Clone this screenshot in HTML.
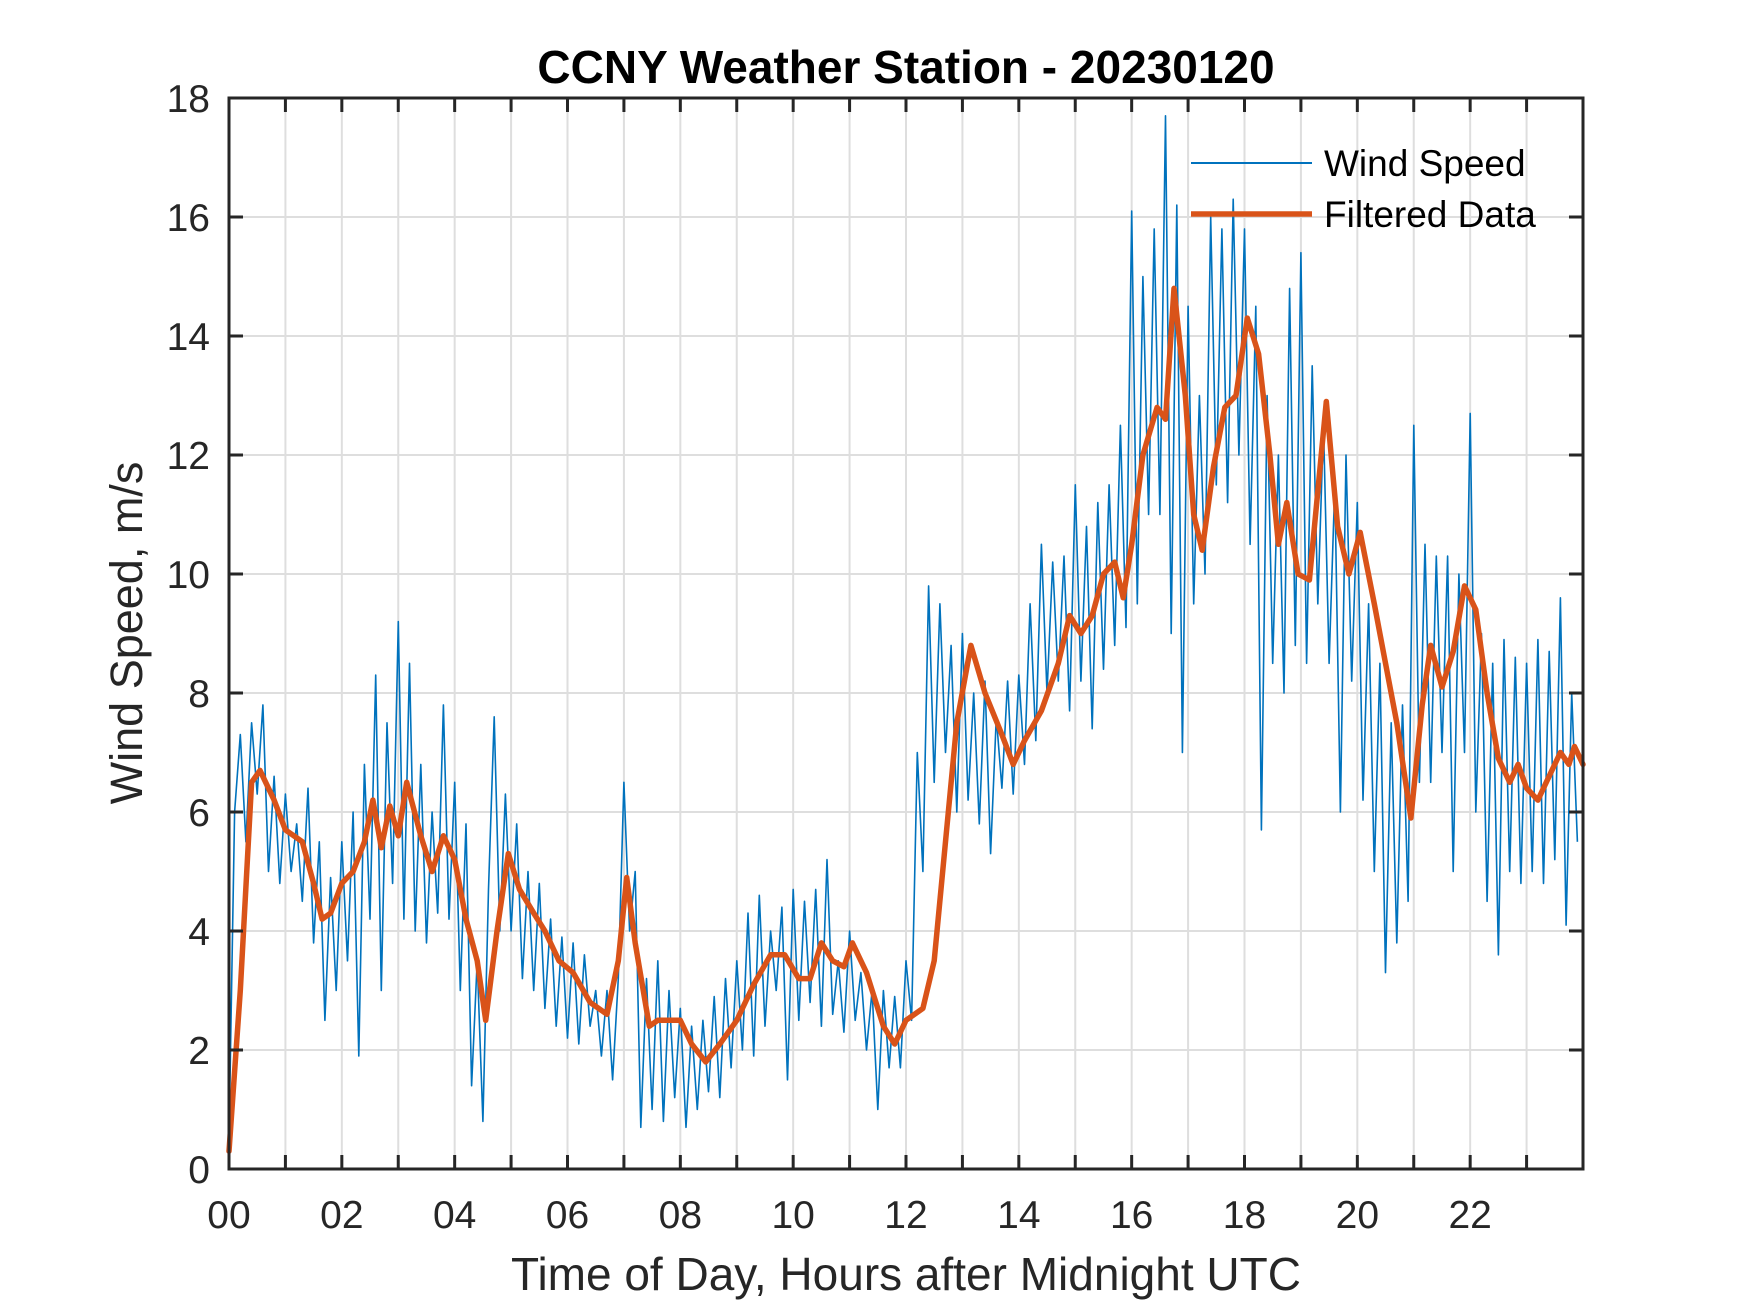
<!DOCTYPE html>
<html><head><meta charset="utf-8"><style>
html,body{margin:0;padding:0;background:#fff;}
svg{display:block;font-family:"Liberation Sans",Arial,sans-serif;}
</style></head><body>
<svg id="chart" width="1750" height="1313" viewBox="0 0 1750 1313" xmlns="http://www.w3.org/2000/svg">
<rect width="1750" height="1313" fill="#fff"/>
<g id="grid"></g>
<g id="series"></g>
<g id="axes"></g>
<text x="906" y="83" text-anchor="middle" font-size="46" font-weight="bold" fill="#000">CCNY Weather Station - 20230120</text>
<text x="906" y="1290" text-anchor="middle" font-size="46" fill="#262626">Time of Day, Hours after Midnight UTC</text>
<text x="0" y="0" transform="translate(142,633) rotate(-90)" text-anchor="middle" font-size="45" fill="#262626">Wind Speed, m/s</text>
<g>
<line x1="1191" y1="163" x2="1312" y2="163" stroke="#0072BD" stroke-width="2"/>
<text x="1324" y="176" font-size="37" fill="#000">Wind Speed</text>
<line x1="1191" y1="214" x2="1312" y2="214" stroke="#D95319" stroke-width="5.5"/>
<text x="1324" y="227" font-size="37" fill="#000">Filtered Data</text>
</g>
</svg>
<script>
const rawValues = [
0.5,6.0,7.3,5.5,7.5,6.3,7.8,5.0,6.6,4.8,
6.3,5.0,5.8,4.5,6.4,3.8,5.5,2.5,4.9,3.0,
5.5,3.5,6.0,1.9,6.8,4.2,8.3,3.0,7.5,4.8,
9.2,4.2,8.5,4.0,6.8,3.8,6.0,4.3,7.8,4.2,
6.5,3.0,5.8,1.4,3.5,0.8,4.7,7.6,4.0,6.3,
4.0,5.8,3.2,5.0,3.0,4.8,2.7,4.2,2.4,3.9,
2.2,3.8,2.1,3.6,2.4,3.0,1.9,3.0,1.5,3.2,
6.5,4.0,5.0,0.7,3.2,1.0,3.5,0.8,3.0,1.2,
2.7,0.7,2.4,1.0,2.5,1.3,2.9,1.2,3.2,1.7,
3.5,2.0,4.3,1.9,4.6,2.4,4.0,3.0,4.4,1.5,
4.7,2.5,4.5,2.8,4.7,2.4,5.2,2.6,3.5,2.3,
4.0,2.5,3.3,2.0,3.0,1.0,3.0,1.7,2.9,1.7,
3.5,2.5,7.0,5.0,9.8,6.5,9.5,7.0,8.8,6.0,
9.0,6.2,8.0,5.8,8.2,5.3,7.6,6.4,8.2,6.3,
8.3,6.8,9.5,7.2,10.5,8.0,10.2,8.2,10.3,7.7,
11.5,8.2,10.8,7.4,11.2,8.4,11.5,8.8,12.5,9.1,
16.1,9.5,15.0,11.0,15.8,11.0,17.7,9.0,16.2,7.0,
14.5,9.5,13.0,10.0,16.0,11.5,15.8,11.2,16.3,12.0,
15.8,10.5,14.5,5.7,13.0,8.5,12.0,8.0,14.8,8.8,
15.4,8.5,13.5,9.5,12.5,8.5,11.5,6.0,12.0,8.2,
11.2,6.2,9.5,5.0,8.5,3.3,7.5,3.8,7.8,4.5,
12.5,6.5,10.5,6.5,10.3,7.0,10.3,5.0,10.0,7.0,
12.7,6.0,9.0,4.5,8.5,3.6,8.9,5.0,8.6,4.8,
8.5,5.0,8.9,4.8,8.7,5.2,9.6,4.1,8.0,5.5
];
const rawStepHours = 0.1;
const filtHours = [0,0.2,0.4,0.55,0.8,1,1.3,1.5,1.65,1.8,2,2.2,2.4,2.55,2.7,2.85,3.0,3.15,3.4,3.6,3.8,4.0,4.2,4.4,4.55,4.75,4.95,5.15,5.4,5.6,5.85,6.1,6.4,6.7,6.9,7.05,7.2,7.45,7.6,8.0,8.2,8.45,8.7,9.0,9.3,9.6,9.85,10.1,10.3,10.5,10.7,10.9,11.05,11.3,11.6,11.8,12.0,12.3,12.5,12.7,12.9,13.15,13.4,13.7,13.9,14.1,14.4,14.7,14.9,15.1,15.3,15.5,15.7,15.85,16.0,16.2,16.45,16.6,16.75,16.95,17.1,17.25,17.45,17.65,17.85,18.05,18.25,18.45,18.6,18.75,18.95,19.15,19.45,19.65,19.85,20.05,20.3,20.5,20.7,20.95,21.15,21.3,21.5,21.7,21.9,22.1,22.3,22.5,22.7,22.85,23.0,23.2,23.4,23.6,23.75,23.85,24];
const filtValues = [0.3,3,6.5,6.7,6.2,5.7,5.5,4.8,4.2,4.3,4.8,5.0,5.5,6.2,5.4,6.1,5.6,6.5,5.6,5.0,5.6,5.2,4.2,3.5,2.5,4.0,5.3,4.7,4.3,4.0,3.5,3.3,2.8,2.6,3.5,4.9,3.8,2.4,2.5,2.5,2.1,1.8,2.1,2.5,3.1,3.6,3.6,3.2,3.2,3.8,3.5,3.4,3.8,3.3,2.4,2.1,2.5,2.7,3.5,5.5,7.5,8.8,8.0,7.3,6.8,7.2,7.7,8.5,9.3,9.0,9.3,10.0,10.2,9.6,10.5,12.0,12.8,12.6,14.8,13.0,11.0,10.4,11.8,12.8,13.0,14.3,13.7,12.0,10.5,11.2,10.0,9.9,12.9,10.8,10.0,10.7,9.5,8.5,7.5,5.9,7.8,8.8,8.1,8.7,9.8,9.4,8.0,6.9,6.5,6.8,6.4,6.2,6.6,7.0,6.8,7.1,6.8];
const xTickLabels = ["00","02","04","06","08","10","12","14","16","18","20","22"];
const yTickLabels = ["0","2","4","6","8","10","12","14","16","18"];

const NS="http://www.w3.org/2000/svg";
const L=229,R=1583,T=98,B=1169;
const xS=h=>L+(R-L)*h/24;
const yS=v=>B-(B-T)*v/18;
function mk(tag,attrs,parent){const e=document.createElementNS(NS,tag);for(const k in attrs)e.setAttribute(k,attrs[k]);parent.appendChild(e);return e;}
const grid=document.getElementById('grid'),series=document.getElementById('series'),axes=document.getElementById('axes');
for(let h=1;h<24;h++){
  const g=mk('line',{x1:xS(h),x2:xS(h),y1:T,y2:B,stroke:'#dedede','stroke-width':2},grid);
  
  
}
for(let i=1;i<yTickLabels.length-1;i++){
  const v=+yTickLabels[i];
  const g=mk('line',{x1:L,x2:R,y1:yS(v),y2:yS(v),stroke:'#dedede','stroke-width':2},grid);
  
  
}
let d='';
rawValues.forEach((v,i)=>{d+=(i?'L':'M')+xS(i*rawStepHours).toFixed(1)+' '+yS(v).toFixed(1);});
const raw=mk('path',{d:d,fill:'none',stroke:'#0072BD','stroke-width':1.6,'stroke-linejoin':'round'},series);


let d2='';
filtValues.forEach((v,i)=>{d2+=(i?'L':'M')+xS(filtHours[i]).toFixed(1)+' '+yS(v).toFixed(1);});
const f=mk('path',{d:d2,fill:'none',stroke:'#D95319','stroke-width':5.5,'stroke-linejoin':'round','stroke-linecap':'round'},series);


const box=mk('rect',{x:L,y:T,width:R-L,height:B-T,fill:'none',stroke:'#262626','stroke-width':3},axes);


for(let h=0;h<24;h++){
  const x=xS(h);
  const t1=mk('line',{x1:x,x2:x,y1:B,y2:B-14,stroke:'#262626','stroke-width':3},axes);
  
  
  const t2=mk('line',{x1:x,x2:x,y1:T,y2:T+14,stroke:'#262626','stroke-width':3},axes);
  
  
}
xTickLabels.forEach(s=>{
  const t=mk('text',{x:xS(+s),y:1228,'text-anchor':'middle','font-size':39,fill:'#262626'},axes);
  t.textContent=s;
  
  
});
yTickLabels.forEach(s=>{
  const y=yS(+s);
  const a=mk('line',{x1:L,x2:L+14,y1:y,y2:y,stroke:'#262626','stroke-width':3},axes);
  
  
  const b=mk('line',{x1:R,x2:R-14,y1:y,y2:y,stroke:'#262626','stroke-width':3},axes);
  
  
  const t=mk('text',{x:210,y:y+14,'text-anchor':'end','font-size':39,fill:'#262626'},axes);
  t.textContent=s;
  
  
});
</script>
</body></html>
